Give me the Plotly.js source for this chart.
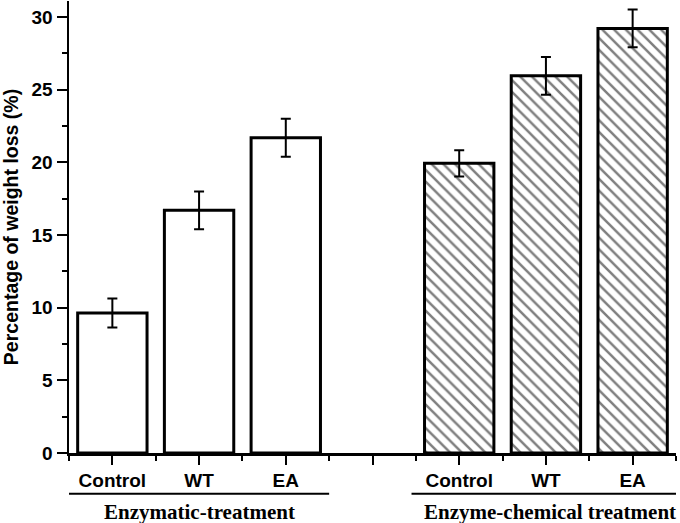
<!DOCTYPE html>
<html>
<head>
<meta charset="utf-8">
<script src="https://cdn.plot.ly/plotly-3.0.1.min.js"></script>
<style>html,body{margin:0;padding:0;background:#fff;}#chart{width:680px;height:523px;}</style>
</head>
<body>
<div id="chart"></div>
<script>
// Data
var categories = ['Control', 'WT', 'EA'];
var groupNames = ['Enzymatic-treatment', 'Enzyme-chemical treatment'];
var enzymaticValues = [9.63, 16.70, 21.69];
var enzymaticErrors = [1.0, 1.3, 1.3];
var enzChemValues = [19.93, 25.95, 29.21];
var enzChemErrors = [0.9, 1.3, 1.3];
var yTickVals = [0, 5, 10, 15, 20, 25, 30];

// Positions: group 1 at 1..3, empty slot at 4, group 2 at 5..7
var pos1 = categories.map(function (c, i) { return i + 1; });
var pos2 = categories.map(function (c, i) { return i + 5; });
var allPos = [1, 2, 3, 4, 5, 6, 7];
var allText = categories.concat(['']).concat(categories);
var minorVals = allPos.map(function (p) { return p - 0.5; }).concat([7.5]);

var tickFont = {family: 'Liberation Sans, Arial, sans-serif', size: 19, color: '#000', weight: 'bold'};
var titleFont = {family: 'Liberation Sans, Arial, sans-serif', size: 19.5, color: '#000', weight: 'bold'};

var traces = [
  {
    type: 'bar', x: pos1, y: enzymaticValues, width: 0.8,
    marker: {color: '#fff', line: {color: '#000', width: 3}},
    error_y: {type: 'data', array: enzymaticErrors, visible: true, color: '#000', thickness: 2, width: 5},
    cliponaxis: false, showlegend: false, hoverinfo: 'skip'
  },
  {
    type: 'bar', x: pos2, y: enzChemValues, width: 0.8,
    marker: {color: '#fff', line: {color: '#000', width: 3},
      pattern: {shape: '\\', size: 8.3, solidity: 0.3, fgcolor: '#000', bgcolor: '#fff', fillmode: 'overlay'}},
    error_y: {type: 'data', array: enzChemErrors, visible: true, color: '#000', thickness: 2, width: 5},
    cliponaxis: false, showlegend: false, hoverinfo: 'skip'
  }
];

var layout = {
  width: 680, height: 523,
  margin: {l: 69, r: 4, t: 1, b: 70},
  paper_bgcolor: '#fff', plot_bgcolor: '#fff',
  bargap: 0.2,
  xaxis: {
    range: [0.5, 7.5], tickmode: 'array', tickvals: allPos, ticktext: allText,
    ticks: 'outside', ticklen: 9, tickwidth: 2, tickcolor: '#000',
    showline: true, linewidth: 2.5, linecolor: '#000', showgrid: false, zeroline: false,
    tickfont: tickFont,
    minor: {tickmode: 'array', tickvals: minorVals, ticks: 'outside', ticklen: 5, tickwidth: 2, tickcolor: '#000', showgrid: false}
  },
  yaxis: {
    range: [0, 31.1], tickmode: 'array', tickvals: yTickVals,
    ticks: 'outside', ticklen: 10, tickwidth: 2, tickcolor: '#000',
    showline: true, linewidth: 2.5, linecolor: '#000', showgrid: false, zeroline: false,
    tickfont: tickFont,
    minor: {dtick: 2.5, tick0: 0, ticks: 'outside', ticklen: 5, tickwidth: 2, tickcolor: '#000', showgrid: false},
    title: {text: 'Percentage of weight loss (%)', font: titleFont, standoff: 8}
  },
  shapes: [
    {type: 'line', xref: 'x', yref: 'paper', x0: 0.5, x1: 3.5, y0: -0.09, y1: -0.09, line: {color: '#000', width: 2}},
    {type: 'line', xref: 'x', yref: 'paper', x0: 4.45, x1: 7.5, y0: -0.09, y1: -0.09, line: {color: '#000', width: 2}}
  ],
  annotations: [
    {xref: 'x', yref: 'paper', x: 2, y: -0.13, yanchor: 'middle', showarrow: false, text: groupNames[0],
      font: {family: 'Liberation Serif, Times New Roman, serif', size: 21, color: '#000', weight: 'bold'}},
    {xref: 'x', yref: 'paper', x: 6.05, y: -0.13, yanchor: 'middle', showarrow: false, text: groupNames[1],
      font: {family: 'Liberation Serif, Times New Roman, serif', size: 21, color: '#000', weight: 'bold'}}
  ]
};

Plotly.newPlot('chart', traces, layout, {staticPlot: true, displayModeBar: false});
</script>
</body>
</html>
